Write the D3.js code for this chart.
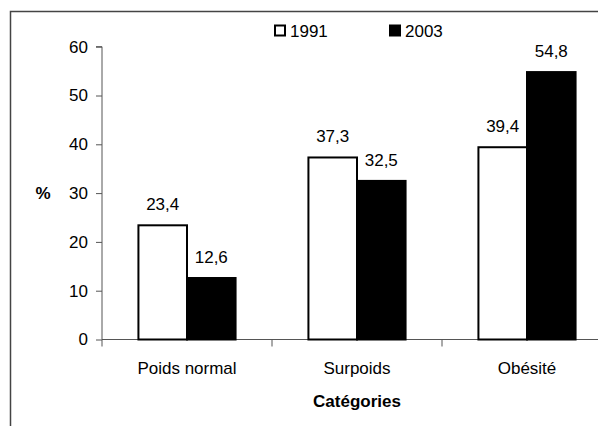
<!DOCTYPE html>
<html><head><meta charset="utf-8">
<script src="https://cdn.jsdelivr.net/npm/d3@7"></script>
<style>
html,body{margin:0;padding:0;background:#fff;}
svg{display:block;font-family:"Liberation Sans",Arial,sans-serif;}
</style></head>
<body>
<svg id="c" width="598" height="426"></svg>
<script>
const categories = ["Poids normal", "Surpoids", "Obésité"];
const seriesNames = ["1991", "2003"];
const values1991 = [23.4, 37.3, 39.4];
const values2003 = [12.6, 32.5, 54.8];
const valueLabels1991 = ["23,4", "37,3", "39,4"];
const valueLabels2003 = ["12,6", "32,5", "54,8"];
const yTicks = [0, 10, 20, 30, 40, 50, 60];

const svg = d3.select("#c");
const fs = 17;

// frame (cropped at right and bottom)
svg.append("rect").attr("x", 10.5).attr("y", 11.5).attr("width", 640).attr("height", 480)
  .attr("fill", "none").attr("stroke", "#444").attr("stroke-width", 1.5);

const x0 = 102, bandW = 170;
const x = d3.scaleBand().domain(categories).range([x0, x0 + bandW * categories.length]).padding(0);
const xs = d3.scaleBand().domain(seriesNames).range([0, x.bandwidth()]).paddingInner(0).paddingOuter(0.75);
const y = d3.scaleLinear().domain([0, 60]).range([339.5, 46.7]);

// y axis
const ya = svg.append("g").attr("transform", `translate(${x0},0)`)
  .call(d3.axisLeft(y).tickValues(yTicks).tickSize(6).tickPadding(8).tickFormat(d3.format("d")));
ya.select(".domain").attr("stroke", "#555").attr("d", `M-6,${y(60)}H0V${y(0)}`);
ya.selectAll(".tick line").attr("stroke", "#555");
ya.selectAll(".tick text").attr("font-size", fs).attr("fill", "#000").attr("font-family", "Liberation Sans, Arial, sans-serif");

// x axis
const xa = svg.append("g").attr("transform", `translate(0,${y(0)})`);
xa.append("line").attr("x1", x0).attr("x2", 640).attr("y1", 0).attr("y2", 0).attr("stroke", "#555");
const bounds = categories.map(c => x(c)).concat([x0 + bandW * categories.length]);
xa.selectAll("line.t").data(bounds).join("line").attr("class", "t")
  .attr("x1", d => d).attr("x2", d => d).attr("y1", 0).attr("y2", 7).attr("stroke", "#555");
xa.selectAll("text.cat").data(categories).join("text").attr("class", "cat")
  .attr("x", d => x(d) + x.bandwidth() / 2).attr("y", 34).attr("text-anchor", "middle")
  .attr("font-size", fs).text(d => d);

// bars
const rows = categories.map((c, i) => ({c, vals: [
  {s: "1991", v: values1991[i], l: valueLabels1991[i]},
  {s: "2003", v: values2003[i], l: valueLabels2003[i]}]}));
const g = svg.append("g");
rows.forEach(r => {
  r.vals.forEach(d => {
    const bx = x(r.c) + xs(d.s);
    g.append("rect").attr("x", bx).attr("y", y(d.v)).attr("width", xs.bandwidth())
      .attr("height", y(0) - y(d.v))
      .attr("fill", d.s === "1991" ? "#fff" : "#000").attr("stroke", "#000").attr("stroke-width", 2);
    g.append("text").attr("x", bx + xs.bandwidth() / 2).attr("y", y(d.v) - 15)
      .attr("text-anchor", "middle").attr("font-size", fs).text(d.l);
  });
});

// axis titles
svg.append("text").attr("x", 357).attr("y", 407).attr("text-anchor", "middle")
  .attr("font-size", fs).attr("font-weight", "bold").text("Catégories");
svg.append("text").attr("x", 43).attr("y", 199).attr("text-anchor", "middle")
  .attr("font-size", fs).attr("font-weight", "bold").text("%");

// legend
const legX = [274, 389];
seriesNames.forEach((s, i) => {
  svg.append("rect").attr("x", legX[i] + 1).attr("y", 25.5).attr("width", 10).attr("height", 10)
    .attr("fill", i === 0 ? "#fff" : "#000").attr("stroke", "#000").attr("stroke-width", 2);
  svg.append("text").attr("x", legX[i] + 16).attr("y", 37).attr("font-size", fs).text(s);
});
</script>
</body></html>
